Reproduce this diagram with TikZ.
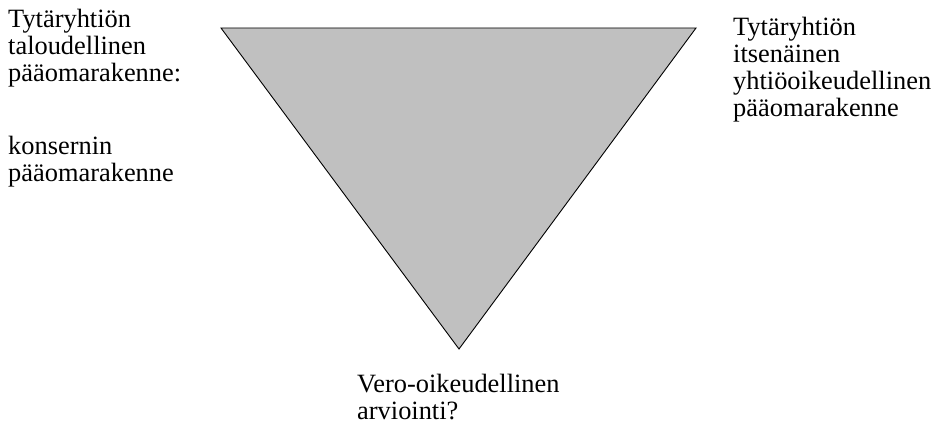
\documentclass[tikz,border=0pt]{standalone}
\usepackage{fontspec}
\setmainfont{Liberation Serif}
\begin{document}
\begin{tikzpicture}[x=1pt,y=-1pt,
  lbl/.style={anchor=base west,inner sep=0pt,font=\fontsize{26.4}{27}\selectfont,align=left},
  tri/.style={draw=black,fill=triGray,line width=0.9pt,line join=miter}]
\definecolor{triGray}{RGB}{192,192,192}
\useasboundingbox (0,0) rectangle (931,427);
% inverted triangle
\coordinate (tl) at (221,28);
\coordinate (tr) at (696,28);
\coordinate (bt) at (459,349);
\draw[tri] (tl) -- (tr) -- (bt) -- cycle;
% labels (anchored at the baseline of their last line)
\node[lbl] (l1) at (8,82) {Tytäryhtiön\\taloudellinen\\pääomarakenne:};
\node[lbl] (l2) at (8,182) {konsernin\\pääomarakenne};
\node[lbl] (r1) at (733,117) {Tytäryhtiön\\itsenäinen\\yhtiöoikeudellinen\\pääomarakenne};
\node[lbl] (b1) at (357,419) {Vero-oikeudellinen\\arviointi?};
\end{tikzpicture}
\end{document}
